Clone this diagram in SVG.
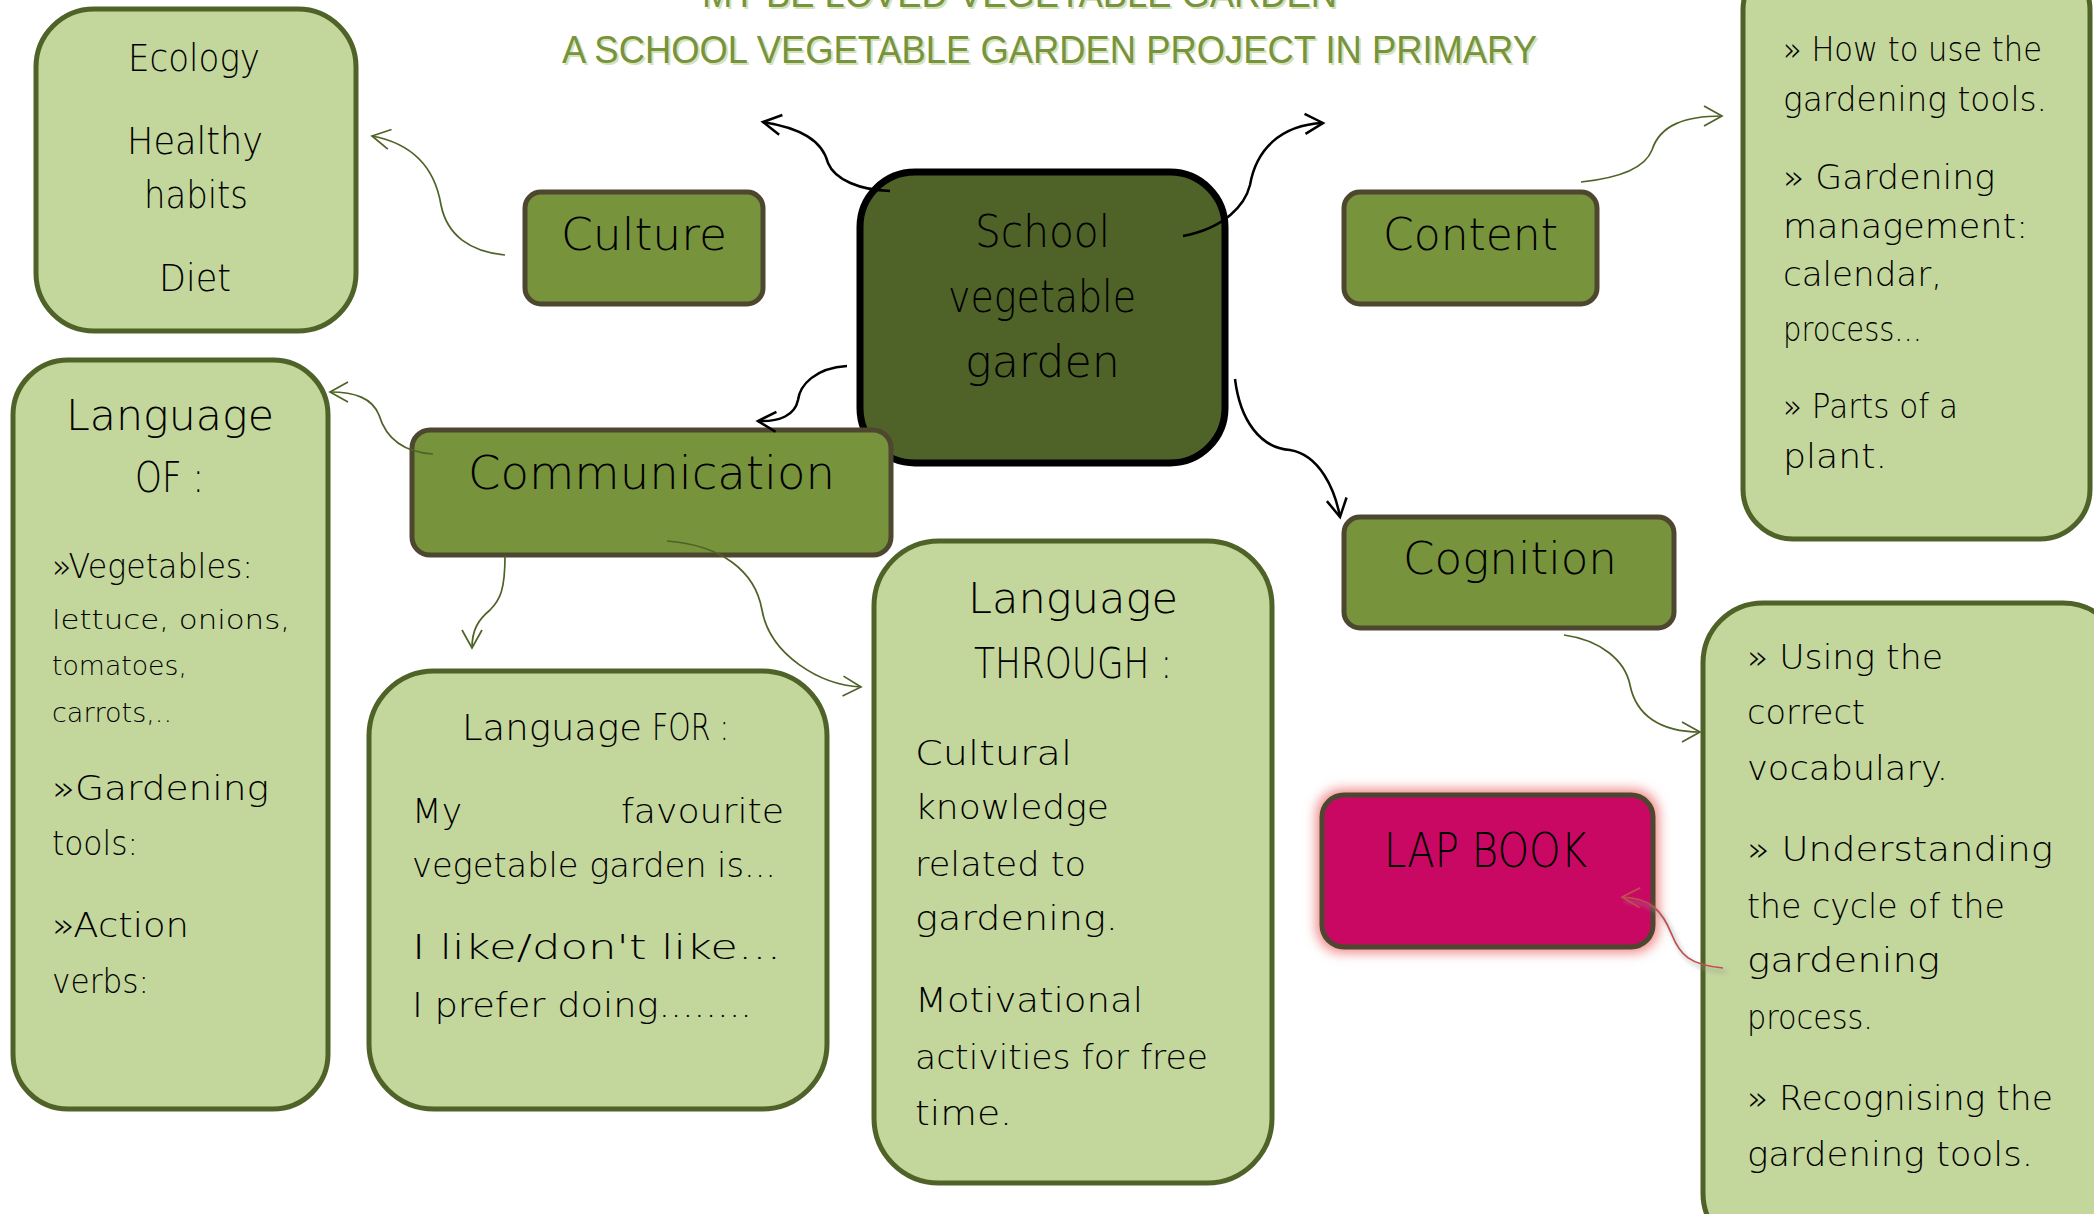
<svg xmlns="http://www.w3.org/2000/svg" width="2094" height="1214" viewBox="0 0 2094 1214">
<style>
.lt{fill:#c3d69b;stroke:#4f6228;stroke-width:5}
.md{fill:#77933c;stroke:#4d4730;stroke-width:5}
.cur{font-family:"DejaVu Sans",sans-serif;font-weight:200;fill:#000}
.sans{font-family:"DejaVu Sans","Liberation Sans",sans-serif;font-weight:200;fill:#000}
.ttl{font-family:"Liberation Sans",Arial,sans-serif;font-size:39px;fill:#77933c}
.ttls{font-family:"Liberation Sans",Arial,sans-serif;font-size:39px;fill:#d3e2b8}
.cb{fill:none;stroke:#000;stroke-width:2.5}
.co{fill:none;stroke:#4f6228;stroke-width:1.7}
.cr{fill:none;stroke:#c0504d;stroke-width:1.7}
</style>
<defs>
<marker id="ab" markerUnits="userSpaceOnUse" markerWidth="26" markerHeight="26" refX="20" refY="11" orient="auto" viewBox="0 0 26 22"><path d="M2,1 L20,11 L2,21" fill="none" stroke="#000" stroke-width="2.5"/></marker>
<marker id="ao" markerUnits="userSpaceOnUse" markerWidth="26" markerHeight="26" refX="20" refY="11" orient="auto" viewBox="0 0 26 22"><path d="M2,1 L20,11 L2,21" fill="none" stroke="#4f6228" stroke-width="1.7"/></marker>
<marker id="ar" markerUnits="userSpaceOnUse" markerWidth="26" markerHeight="26" refX="20" refY="11" orient="auto" viewBox="0 0 26 22"><path d="M2,1 L20,11 L2,21" fill="none" stroke="#c0504d" stroke-width="1.7"/></marker>
<filter id="glow" x="-20%" y="-30%" width="140%" height="160%"><feGaussianBlur stdDeviation="6"/></filter>
<filter id="sh" x="-20%" y="-20%" width="140%" height="140%"><feGaussianBlur stdDeviation="2"/></filter>
</defs>

<g id="title">
<text class="ttls" x="704" y="9" textLength="635" lengthAdjust="spacingAndGlyphs">MY BE LOVED VEGETABLE GARDEN</text>
<text class="ttl" x="702" y="7" textLength="635" lengthAdjust="spacingAndGlyphs">MY BE LOVED VEGETABLE GARDEN</text>
<text class="ttls" x="564" y="65" textLength="975" lengthAdjust="spacingAndGlyphs">A SCHOOL VEGETABLE GARDEN PROJECT IN PRIMARY</text>
<text class="ttl" x="562" y="63" textLength="975" lengthAdjust="spacingAndGlyphs">A SCHOOL VEGETABLE GARDEN PROJECT IN PRIMARY</text>
</g>

<g id="ecology">
<rect class="lt" x="36" y="9" width="320" height="322" rx="58"/>
<g class="cur" font-size="37">
<text x="128" y="71" textLength="132" lengthAdjust="spacingAndGlyphs">Ecology</text>
<text x="127" y="154" textLength="136" lengthAdjust="spacingAndGlyphs">Healthy</text>
<text x="144" y="208" textLength="104" lengthAdjust="spacingAndGlyphs">habits</text>
<text x="159" y="291" textLength="72" lengthAdjust="spacingAndGlyphs">Diet</text>
</g>
</g>

<g id="culture">
<rect class="md" x="525" y="192" width="238" height="112" rx="16"/>
<text class="cur" font-size="44" x="561" y="250" textLength="166" lengthAdjust="spacingAndGlyphs">Culture</text>
</g>

<g id="center">
<rect x="860" y="172" width="365" height="291" rx="55" fill="#4f6228" stroke="#000" stroke-width="7"/>
<g class="cur" font-size="44">
<text x="975" y="247" textLength="135" lengthAdjust="spacingAndGlyphs">School</text>
<text x="948" y="312" textLength="188" lengthAdjust="spacingAndGlyphs">vegetable</text>
<text x="965" y="377" textLength="155" lengthAdjust="spacingAndGlyphs">garden</text>
</g>
</g>

<g id="content">
<rect class="md" x="1344" y="192" width="253" height="112" rx="16"/>
<text class="cur" font-size="44" x="1383" y="250" textLength="175" lengthAdjust="spacingAndGlyphs">Content</text>
</g>

<g id="content-detail">
<rect class="lt" x="1743" y="-40" width="347" height="579" rx="50"/>
<g class="cur" font-size="34">
<text x="1783" y="61" textLength="259" lengthAdjust="spacingAndGlyphs">» How to use the</text>
<text x="1783" y="111" textLength="264" lengthAdjust="spacingAndGlyphs">gardening tools.</text>
<text x="1783" y="189" textLength="212" lengthAdjust="spacingAndGlyphs">» Gardening</text>
<text x="1783" y="238" textLength="245" lengthAdjust="spacingAndGlyphs">management:</text>
<text x="1783" y="286" textLength="159" lengthAdjust="spacingAndGlyphs">calendar,</text>
<text x="1783" y="341" textLength="139" lengthAdjust="spacingAndGlyphs">process...</text>
<text x="1783" y="418" textLength="175" lengthAdjust="spacingAndGlyphs">» Parts of a</text>
<text x="1783" y="468" textLength="104" lengthAdjust="spacingAndGlyphs">plant.</text>
</g>
</g>

<g id="language-of">
<rect class="lt" x="13" y="360" width="315" height="749" rx="55"/>
<text class="cur" font-size="42" x="66" y="430" textLength="208" lengthAdjust="spacingAndGlyphs">Language</text>
<text class="sans" font-size="42" x="135" y="492" textLength="69" lengthAdjust="spacingAndGlyphs">OF :</text>
<g class="cur" font-size="33">
<text x="52" y="578" textLength="201" lengthAdjust="spacingAndGlyphs">»Vegetables:</text>
<text x="52" y="629" font-size="27" textLength="238" lengthAdjust="spacingAndGlyphs">lettuce,  onions,</text>
<text x="52" y="675" font-size="27" textLength="135" lengthAdjust="spacingAndGlyphs">tomatoes,</text>
<text x="52" y="722" font-size="27" textLength="120" lengthAdjust="spacingAndGlyphs">carrots,..</text>
<text x="52" y="800" textLength="217" lengthAdjust="spacingAndGlyphs">»Gardening</text>
<text x="52" y="855" textLength="86" lengthAdjust="spacingAndGlyphs">tools:</text>
<text x="52" y="937" textLength="137" lengthAdjust="spacingAndGlyphs">»Action</text>
<text x="52" y="993" textLength="97" lengthAdjust="spacingAndGlyphs">verbs:</text>
</g>
</g>

<g id="communication">
<rect class="md" x="412" y="430" width="479" height="125" rx="18"/>
<text class="cur" font-size="46" x="468" y="489" textLength="367" lengthAdjust="spacingAndGlyphs">Communication</text>
</g>

<g id="language-for">
<rect class="lt" x="369" y="671" width="458" height="438" rx="65"/>
<text class="cur" font-size="36" x="462" y="740" textLength="180" lengthAdjust="spacingAndGlyphs">Language</text>
<text class="sans" font-size="37" x="652" y="740" textLength="77" lengthAdjust="spacingAndGlyphs">FOR :</text>
<g class="cur" font-size="33">
<text x="412" y="823" textLength="50" lengthAdjust="spacingAndGlyphs">My</text>
<text x="621" y="823" textLength="163" lengthAdjust="spacingAndGlyphs">favourite</text>
<text x="412" y="877" textLength="364" lengthAdjust="spacingAndGlyphs">vegetable garden is...</text>
<text x="412" y="959" textLength="369" lengthAdjust="spacingAndGlyphs">I  like/don't  like...</text>
<text x="412" y="1017" textLength="340" lengthAdjust="spacingAndGlyphs">I prefer doing........</text>
</g>
</g>

<g id="language-through">
<rect class="lt" x="874" y="541" width="398" height="642" rx="65"/>
<text class="cur" font-size="42" x="968" y="613" textLength="210" lengthAdjust="spacingAndGlyphs">Language</text>
<text class="sans" font-size="42" x="974" y="678" textLength="198" lengthAdjust="spacingAndGlyphs">THROUGH :</text>
<g class="cur" font-size="34">
<text x="915" y="765" textLength="157" lengthAdjust="spacingAndGlyphs">Cultural</text>
<text x="915" y="819" textLength="194" lengthAdjust="spacingAndGlyphs">knowledge</text>
<text x="915" y="876" textLength="171" lengthAdjust="spacingAndGlyphs">related to</text>
<text x="915" y="930" textLength="203" lengthAdjust="spacingAndGlyphs">gardening.</text>
<text x="915" y="1012" textLength="228" lengthAdjust="spacingAndGlyphs">Motivational</text>
<text x="915" y="1069" textLength="293" lengthAdjust="spacingAndGlyphs">activities for free</text>
<text x="915" y="1125" textLength="97" lengthAdjust="spacingAndGlyphs">time.</text>
</g>
</g>

<g id="cognition">
<rect class="md" x="1344" y="517" width="330" height="111" rx="16"/>
<text class="cur" font-size="44" x="1403" y="574" textLength="214" lengthAdjust="spacingAndGlyphs">Cognition</text>
</g>

<g id="lap-book">
<rect x="1316" y="789" width="343" height="164" rx="26" fill="#f08a8a" filter="url(#glow)"/>
<rect x="1322" y="795" width="331" height="152" rx="22" fill="#c90864" stroke="#4d4730" stroke-width="5"/>
<text class="sans" font-size="48" x="1384" y="867" textLength="203" lengthAdjust="spacingAndGlyphs">LAP BOOK</text>
</g>

<g id="cognition-detail">
<rect class="lt" x="1703" y="603" width="420" height="650" rx="60"/>
<g class="cur" font-size="34">
<text x="1747" y="669" textLength="196" lengthAdjust="spacingAndGlyphs">» Using the</text>
<text x="1747" y="724" textLength="118" lengthAdjust="spacingAndGlyphs">correct</text>
<text x="1747" y="780" textLength="201" lengthAdjust="spacingAndGlyphs">vocabulary.</text>
<text x="1747" y="861" textLength="306" lengthAdjust="spacingAndGlyphs">» Understanding</text>
<text x="1747" y="918" textLength="258" lengthAdjust="spacingAndGlyphs">the cycle of the</text>
<text x="1747" y="972" textLength="193" lengthAdjust="spacingAndGlyphs">gardening</text>
<text x="1747" y="1029" textLength="126" lengthAdjust="spacingAndGlyphs">process.</text>
<text x="1747" y="1110" textLength="306" lengthAdjust="spacingAndGlyphs">» Recognising the</text>
<text x="1747" y="1166" textLength="286" lengthAdjust="spacingAndGlyphs">gardening tools.</text>
</g>
</g>

<g id="connectors">
<path class="cb" marker-end="url(#ab)" d="M890,191 C860,190 835,180 828,163 C822,140 800,128 763,122"/>
<path class="cb" marker-end="url(#ab)" d="M1183,236 C1225,228 1245,205 1250,185 C1256,150 1280,125 1323,123"/>
<path class="cb" marker-end="url(#ab)" d="M847,366 C815,368 800,385 798,400 C795,415 780,422 758,421"/>
<path class="cb" marker-end="url(#ab)" d="M1235,379 C1240,420 1260,448 1290,450 C1320,455 1335,490 1340,517"/>
<path class="co" marker-end="url(#ao)" d="M505,255 C470,252 447,235 441,205 C436,175 420,145 372,136"/>
<path class="co" marker-end="url(#ao)" d="M1581,182 C1620,178 1645,168 1652,150 C1660,125 1685,116 1722,116"/>
<path class="co" marker-end="url(#ao)" d="M433,454 C400,452 385,435 379,415 C372,398 355,392 330,392"/>
<path class="co" marker-end="url(#ao)" d="M505,556 C505,590 500,600 490,610 C478,620 472,630 472,648"/>
<path class="co" marker-end="url(#ao)" d="M667,541 C720,545 755,570 762,610 C770,655 820,685 861,687"/>
<path class="co" marker-end="url(#ao)" d="M1564,635 C1600,640 1625,660 1630,685 C1636,715 1660,732 1700,732"/>
<path d="M1726,972 C1693,969 1683,959 1675,939 C1665,914 1653,902 1625,901" fill="none" stroke="#999" stroke-width="3" opacity="0.5" filter="url(#sh)"/>
<path class="cr" marker-end="url(#ar)" d="M1723,968 C1690,965 1680,955 1672,935 C1662,910 1650,898 1622,897"/>
</g>
</svg>
